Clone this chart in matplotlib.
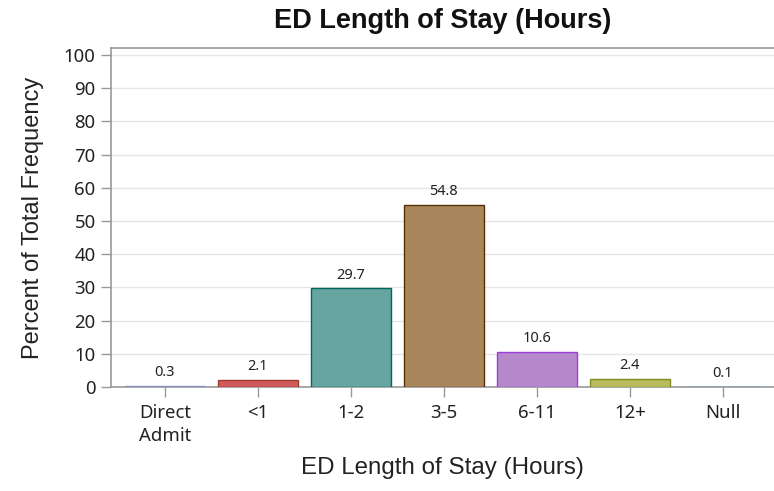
import matplotlib
matplotlib.use("Agg")
import matplotlib.pyplot as plt

categories = ["Direct\nAdmit", "<1", "1-2", "3-5", "6-11", "12+", "Null"]
values = [0.3, 2.1, 29.7, 54.8, 10.6, 2.4, 0.1]
fill_colors = ["#7F86B0", "#D05B5B", "#66A5A0", "#A9865B", "#B689CD", "#BABC5C", "#94BDE1"]
edge_colors = ["#8A90C0", "#A23A2E", "#01665E", "#543005", "#9D3CDB", "#7F8E1F", "#2597FA"]
yticks = list(range(0, 101, 10))

plt.rcParams['font.family'] = ['Noto Sans', 'DejaVu Sans']

fig = plt.figure(figsize=(7.74, 4.91), dpi=100)
W, H = 774, 491
ax = fig.add_axes([111/W, 1 - 387/H, (W-111)/W, (387-48)/H])

x = list(range(len(categories)))
ax.bar(x, values, width=0.86, color=fill_colors, edgecolor=edge_colors, linewidth=1, zorder=3)
for xi, v in zip(x, values):
    ax.annotate(f"{v:.1f}", (xi, v), xytext=(0, 4), textcoords="offset points",
                ha="center", va="bottom", fontsize=10.5, color="#222222", zorder=4)

ax.set_xlim(-0.58, 6.55)
ax.set_ylim(0, 102.1)
ax.set_yticks(yticks)
ax.set_xticks(x)
ax.set_xticklabels(categories, fontsize=13.4, linespacing=1.4)
ax.tick_params(axis='y', labelsize=13.4, pad=4)
ax.tick_params(axis='x', pad=5)
ax.tick_params(axis='both', color="#999999", length=7, width=1, labelcolor="#222222")
ax.yaxis.grid(True, color="#e6e6e6", linewidth=1, zorder=0)
ax.set_axisbelow(True)
for s in ["left", "bottom", "top"]:
    ax.spines[s].set_color("#999999")
    ax.spines[s].set_linewidth(1.2)
ax.spines["right"].set_visible(False)

lab_font = ['Liberation Sans', 'DejaVu Sans']
ax.set_ylabel("Percent of Total Frequency", fontsize=17, color="#222222", family=lab_font, va='center')
ax.yaxis.set_label_coords((33-111)/(W-111), 0.5)
ax.set_xlabel("ED Length of Stay (Hours)", fontsize=17.4, color="#222222", family=lab_font, va='center')
ax.xaxis.set_label_coords(0.5, (387-468)/(387-48))
ax.set_title("ED Length of Stay (Hours)", fontsize=19.5, fontweight="bold", color="#111111",
             family=lab_font, va='center', y=(387-21.5)/(387-48), pad=0)

fig.savefig("out.png", dpi=100)
